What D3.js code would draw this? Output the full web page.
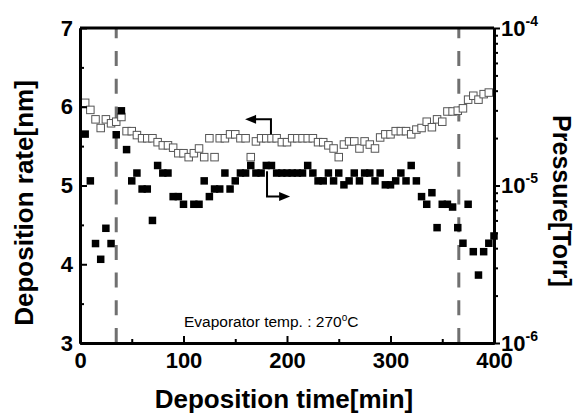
<!DOCTYPE html>
<html>
<head>
<meta charset="utf-8">
<script src="https://cdn.jsdelivr.net/npm/d3@7"></script>
<style>
  body { margin: 0; background: #fff; }
  svg { font-family: "Liberation Sans", Arial, sans-serif; }
</style>
</head>
<body>
<div id="chart"></div>
<script>
// data, one point every 5 min
const times = [5, 10, 15, 20, 25, 30, 35, 40, 45, 50,
  55, 60, 65, 70, 75, 80, 85, 90, 95, 100,
  105, 110, 115, 120, 125, 130, 135, 140, 145, 150,
  155, 160, 165, 170, 175, 180, 185, 190, 195, 200,
  205, 210, 215, 220, 225, 230, 235, 240, 245, 250,
  255, 260, 265, 270, 275, 280, 285, 290, 295, 300,
  305, 310, 315, 320, 325, 330, 335, 340, 345, 350,
  355, 360, 365, 370, 375, 380, 385, 390, 395, 400]

// deposition rate [nm] (open squares, left axis)
const depositionRate = [6.05, 5.96, 5.84, 5.73, 5.84, 5.79, 5.81, 5.87, 5.69, 5.69,
  5.64, 5.60, 5.60, 5.60, 5.55, 5.51, 5.51, 5.48, 5.41, 5.41,
  5.36, 5.41, 5.47, 5.36, 5.60, 5.36, 5.60, 5.60, 5.65, 5.65,
  5.60, 5.60, 5.36, 5.56, 5.60, 5.60, 5.60, 5.60, 5.55, 5.55,
  5.60, 5.60, 5.60, 5.60, 5.60, 5.55, 5.55, 5.51, 5.47, 5.36,
  5.52, 5.56, 5.56, 5.47, 5.56, 5.52, 5.47, 5.61, 5.65, 5.65,
  5.69, 5.69, 5.69, 5.65, 5.71, 5.73, 5.81, 5.74, 5.84, 5.81,
  5.94, 5.94, 5.95, 5.98, 6.09, 6.14, 6.09, 6.16, 6.18, null]

// pressure [Torr] (filled squares, right log axis)
const pressure = [2.12e-5, 1.07e-5, 4.28e-6, 3.40e-6, 5.35e-6, 4.28e-6, 2.10e-5, 2.98e-5, 1.69e-5, 1.07e-5,
  1.20e-5, 9.5e-6, 9.5e-6, 6.0e-6, 1.34e-5, 1.20e-5, 1.20e-5, 8.5e-6, 8.5e-6, 7.6e-6,
  null, 7.6e-6, 7.6e-6, 1.07e-5, 8.5e-6, 9.5e-6, 9.5e-6, 1.20e-5, 9.5e-6, 1.07e-5,
  1.20e-5, 1.20e-5, 1.34e-5, 1.20e-5, 1.20e-5, 1.34e-5, 1.34e-5, 1.20e-5, 1.20e-5, 1.20e-5,
  1.20e-5, 1.20e-5, 1.20e-5, 1.34e-5, 1.20e-5, 1.07e-5, 1.07e-5, 1.20e-5, 1.07e-5, 1.20e-5,
  1.01e-5, 1.07e-5, 1.20e-5, 1.07e-5, 1.20e-5, 1.20e-5, 1.07e-5, 1.20e-5, 1.01e-5, 1.01e-5,
  1.07e-5, 1.20e-5, 1.07e-5, 1.34e-5, 1.07e-5, 8.5e-6, 7.6e-6, 9.0e-6, 5.4e-6, 7.6e-6,
  7.6e-6, 7.3e-6, 5.4e-6, 4.3e-6, 7.6e-6, 3.8e-6, 2.7e-6, 3.8e-6, 4.3e-6, 4.78e-6]

const stageTimes = [35, 366]

const xTicks = [0, 100, 200, 300, 400]
const xMinorTicks = [50, 150, 250, 350]
const rateTicks = [3, 4, 5, 6, 7]
const rateMinorTicks = [3.5, 4.5, 5.5, 6.5]
const pressureTicks = [1e-6, 1e-5, 1e-4]
const pressureMinorTicks = [2e-6, 3e-6, 4e-6, 5e-6, 6e-6, 7e-6, 8e-6, 9e-6,
  2e-5, 3e-5, 4e-5, 5e-5, 6e-5, 7e-5, 8e-5, 9e-5]

//const:
const width = 581
const height = 414
const margins = {top: 28, bottom: 71, left: 80, right: 87}
const w = width - margins.left - margins.right
const h = height - margins.top - margins.bottom
const boxSize = 7.5

let svg = d3.select('div#chart').append('svg').attr('width', width).attr('height', height)
let plot = svg.append('g').attr('transform', `translate(${margins.left}, ${margins.top})`)

let x = d3.scaleLinear().domain([0, 400]).range([0, w])
let yRate = d3.scaleLinear().domain([3, 7]).range([h, 0])
let yPress = d3.scaleLog().domain([1e-6, 1e-4]).range([h, 0])

// vertical dashed markers
plot.selectAll('line.stage').data(stageTimes).join('line')
    .attr('class', 'stage')
    .attr('x1', d => x(d)).attr('x2', d => x(d))
    .attr('y1', h).attr('y2', 0)
    .attr('stroke', '#707070').attr('stroke-width', 3)
    .attr('stroke-dasharray', '15,12.7')

// points
let rows = times.map((t, i) => ({t: t, rate: depositionRate[i], p: pressure[i]}))

plot.append('g').selectAll('rect').data(rows.filter(d => d.rate != null)).join('rect')
    .attr('x', d => x(d.t) - boxSize / 2)
    .attr('y', d => yRate(d.rate) - boxSize / 2)
    .attr('width', boxSize).attr('height', boxSize)
    .attr('fill', '#fff').attr('stroke', '#555').attr('stroke-width', 1)

plot.append('g').selectAll('rect').data(rows.filter(d => d.p != null)).join('rect')
    .attr('x', d => x(d.t) - boxSize / 2)
    .attr('y', d => yPress(d.p) - boxSize / 2)
    .attr('width', boxSize).attr('height', boxSize)
    .attr('fill', '#000')

// axes: minor ticks first (no labels), then labelled major ticks
let xAxisGroup = plot.append('g').attr('transform', `translate(0, ${h})`)
xAxisGroup.call(d3.axisBottom(x).tickValues(xMinorTicks).tickSize(-4).tickSizeOuter(0).tickFormat(''))
let xMajor = xAxisGroup.append('g')
    .call(d3.axisBottom(x).tickValues(xTicks).tickSize(-7).tickSizeOuter(0).tickPadding(9))

let yAxisGroup = plot.append('g')
yAxisGroup.call(d3.axisLeft(yRate).tickValues(rateMinorTicks).tickSize(-4).tickSizeOuter(0).tickFormat(''))
let yMajor = yAxisGroup.append('g')
    .call(d3.axisLeft(yRate).tickValues(rateTicks).tickSize(-7).tickSizeOuter(0).tickPadding(7).tickFormat(d3.format('d')))

let y2AxisGroup = plot.append('g').attr('transform', `translate(${w}, 0)`)
y2AxisGroup.call(d3.axisRight(yPress).tickValues(pressureMinorTicks).tickSize(4).tickSizeOuter(0).tickFormat(''))
let y2Major = y2AxisGroup.append('g')
    .call(d3.axisRight(yPress).tickValues(pressureTicks).tickSize(6).tickSizeOuter(0).tickPadding(1))

// drop the empty labels of the minor ticks
plot.selectAll('.tick text').filter(function() { return this.textContent === '' }).remove()

plot.append('line').attr('x1', 0).attr('x2', w).attr('y1', 0).attr('y2', 0)
    .attr('stroke', '#000').attr('stroke-width', 3)

plot.selectAll('.domain').attr('stroke', '#000').attr('stroke-width', 3)
plot.selectAll('.tick line').attr('stroke', '#000').attr('stroke-width', 2)
plot.selectAll('.tick text').attr('font-size', 22).attr('font-weight', 'bold')
    .attr('font-family', '"Liberation Sans", Arial, sans-serif').attr('fill', '#000')

// 10^n labels on the log axis
y2Major.selectAll('.tick text').each(function(d) {
    let t = d3.select(this)
    t.text(null)
    t.append('tspan').text('10')
    t.append('tspan').attr('dy', -10).attr('font-size', 14).text(Math.round(Math.log10(d)))
})

// axis titles
svg.append('text')
    .attr('transform', 'translate(284, 408)')
    .attr('text-anchor', 'middle').attr('font-size', 26).attr('font-weight', 'bold')
    .text('Deposition time[min]')

svg.append('text')
    .attr('transform', 'translate(33, 203) rotate(-90)')
    .attr('text-anchor', 'middle').attr('font-size', 26).attr('font-weight', 'bold')
    .text('Deposition rate[nm]')

svg.append('text')
    .attr('transform', 'translate(553, 201) rotate(90)')
    .attr('text-anchor', 'middle').attr('font-size', 25).attr('font-weight', 'bold')
    .text('Pressure[Torr]')

// note
let note = svg.append('text').attr('x', 184).attr('y', 327).attr('font-size', 15.5)
note.append('tspan').text('Evaporator temp. :  270')
note.append('tspan').attr('dy', -6).attr('font-size', 10).text('o')
note.append('tspan').attr('dy', 6).text('C')

// series arrows (data coords of the left axis)
const arrows = [
    {pts: [[184.5, 5.65], [184.5, 5.84], [169, 5.84]], tip: [159.5, 5.84], dir: -1},
    {pts: [[180.7, 5.18], [180.7, 4.86], [193, 4.86]], tip: [203, 4.86], dir: 1}
]
arrows.forEach(a => {
    plot.append('path')
        .attr('d', d3.line().x(d => x(d[0])).y(d => yRate(d[1]))(a.pts))
        .attr('fill', 'none').attr('stroke', '#000').attr('stroke-width', 2)
    let tx = x(a.tip[0]), ty = yRate(a.tip[1])
    plot.append('path')
        .attr('d', `M${tx},${ty} L${tx - a.dir * 11},${ty - 4.5} L${tx - a.dir * 11},${ty + 4.5} Z`)
        .attr('fill', '#000')
})
</script>
</body>
</html>
